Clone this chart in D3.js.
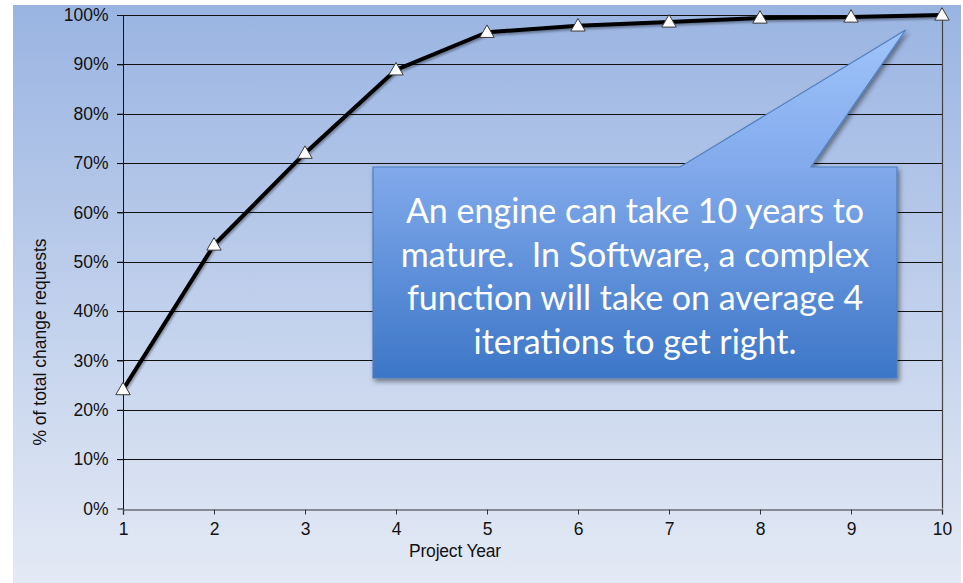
<!DOCTYPE html>
<html>
<head>
<meta charset="utf-8">
<script src="https://cdn.jsdelivr.net/npm/d3@7"></script>
<style>
  html, body { margin: 0; padding: 0; background: #ffffff; }
  svg { display: block; }
</style>
</head>
<body>
<svg id="chart" width="963" height="583"></svg>
<script>
// Cumulative share of change requests by project year
const years = [1, 2, 3, 4, 5, 6, 7, 8, 9, 10];
const cumulativeShare = [0.241, 0.534, 0.72, 0.889, 0.965, 0.978, 0.986, 0.994, 0.996, 1.0];
const yTicks = [0, 0.1, 0.2, 0.3, 0.4, 0.5, 0.6, 0.7, 0.8, 0.9, 1.0];
const xTitle = "Project Year";
const yTitle = "% of total change requests";
const calloutLines = [
  "An engine can take 10 years to",
  "mature.  In Software, a complex",
  "function will take on average 4",
  "iterations to get right."
];

const svg = d3.select("#chart");
const defs = svg.append("defs");

// Background wash
const bg = defs.append("linearGradient").attr("id", "bgGrad")
  .attr("x1", 0).attr("y1", 0).attr("x2", 0).attr("y2", 1);
bg.append("stop").attr("offset", "0%").attr("stop-color", "#9ab4e2");
bg.append("stop").attr("offset", "100%").attr("stop-color", "#e4eaf5");

svg.append("rect")
  .attr("x", 13).attr("y", 5).attr("width", 948).attr("height", 578)
  .attr("fill", "url(#bgGrad)");

const plot = { left: 123, right: 942, top: 15, bottom: 508.5 };

const x = d3.scaleLinear().domain([1, 10]).range([plot.left, plot.right]);
const y = d3.scaleLinear().domain([0, 1]).range([plot.bottom, plot.top]);

const labelFont = "'Liberation Sans', Arial, sans-serif";

// Horizontal gridlines
svg.append("g")
  .selectAll("line")
  .data(yTicks.filter(d => d > 0))
  .join("line")
  .attr("x1", plot.left - 6).attr("x2", plot.right)
  .attr("y1", d => Math.round(y(d)) + 0.5).attr("y2", d => Math.round(y(d)) + 0.5)
  .attr("stroke", "#111").attr("stroke-width", 1);

// Right border of plot
svg.append("line")
  .attr("x1", plot.right + 0.5).attr("x2", plot.right + 0.5)
  .attr("y1", y(1)).attr("y2", y(0))
  .attr("stroke", "#444").attr("stroke-width", 1.2);

// Y axis
const yAxis = d3.axisLeft(y)
  .tickValues(yTicks)
  .tickFormat(d3.format(".0%"))
  .tickSize(6)
  .tickPadding(9);
const gy = svg.append("g")
  .attr("transform", `translate(${plot.left + 0.5},0)`)
  .call(yAxis);
gy.select(".domain").attr("stroke", "#111").attr("d", `M0,${y(1)}V${y(0) + 6}`);
gy.selectAll(".tick line").attr("stroke", "#111");
gy.selectAll(".tick text")
  .attr("fill", "#111")
  .style("font-family", labelFont)
  .style("font-size", "17.5px");

// X axis
const xAxis = d3.axisBottom(x)
  .tickValues(years)
  .tickFormat(d3.format("d"))
  .tickSize(5)
  .tickPadding(8);
const gx = svg.append("g")
  .attr("transform", `translate(0,${Math.round(y(0)) + 0.5})`)
  .call(xAxis);
gx.select(".domain").attr("stroke", "#6b6f78").attr("stroke-width", 1.5);
gx.selectAll(".tick line").attr("stroke", "#333");
gx.selectAll(".tick text")
  .attr("fill", "#111")
  .style("font-family", labelFont)
  .style("font-size", "17.5px");

// Axis titles
svg.append("text")
  .attr("x", 455)
  .attr("y", 557)
  .attr("text-anchor", "middle")
  .attr("fill", "#111")
  .style("font-family", labelFont)
  .style("font-size", "17.5px")
  .style("letter-spacing", "-0.2px")
  .text(xTitle);

svg.append("text")
  .attr("transform", "translate(46,342) rotate(-90)")
  .attr("text-anchor", "middle")
  .attr("fill", "#111")
  .style("font-family", labelFont)
  .style("font-size", "17.5px")
  .text(yTitle);

// Series line with a soft shadow
const shadow = defs.append("filter").attr("id", "lineShadow")
  .attr("x", "-10%").attr("y", "-10%").attr("width", "130%").attr("height", "130%");
shadow.append("feDropShadow")
  .attr("dx", 1).attr("dy", 2).attr("stdDeviation", 1.2)
  .attr("flood-color", "#000").attr("flood-opacity", 0.35);

const points = years.map((yr, i) => [yr, cumulativeShare[i]]);
const line = d3.line().x(d => x(d[0])).y(d => y(d[1]));

svg.append("path")
  .datum(points)
  .attr("d", line)
  .attr("fill", "none")
  .attr("stroke", "#000")
  .attr("stroke-width", 4)
  .attr("stroke-linejoin", "round")
  .attr("filter", "url(#lineShadow)");

// Triangle markers
const tri = d3.symbol().type(d3.symbolTriangle).size(90);
svg.append("g")
  .selectAll("path")
  .data(points)
  .join("path")
  .attr("transform", d => `translate(${x(d[0])},${y(d[1]) + 1})`)
  .attr("d", tri)
  .attr("fill", "#ffffff")
  .attr("stroke", "#3a3a3a")
  .attr("stroke-width", 1);

// Callout box with pointer toward the final years
const box = { x0: 373, y0: 167, x1: 897, y1: 378 };
const tip = [x(9.6), 30];
const baseL = 680, baseR = 811;

const cg = defs.append("linearGradient").attr("id", "calloutGrad")
  .attr("gradientUnits", "userSpaceOnUse")
  .attr("x1", 0).attr("y1", tip[1]).attr("x2", 0).attr("y2", box.y1);
cg.append("stop").attr("offset", "0%").attr("stop-color", "#a0c4fa");
cg.append("stop").attr("offset", "39%").attr("stop-color", "#82aaec");
cg.append("stop").attr("offset", "100%").attr("stop-color", "#3c76c7");

const boxShadow = defs.append("filter").attr("id", "boxShadow")
  .attr("x", "-10%").attr("y", "-10%").attr("width", "125%").attr("height", "125%");
boxShadow.append("feDropShadow")
  .attr("dx", 2).attr("dy", 3).attr("stdDeviation", 2.5)
  .attr("flood-color", "#000").attr("flood-opacity", 0.45);

const calloutPath = d3.path();
calloutPath.moveTo(box.x0, box.y0);
calloutPath.lineTo(baseL, box.y0);
calloutPath.lineTo(tip[0], tip[1]);
calloutPath.lineTo(baseR, box.y0);
calloutPath.lineTo(box.x1, box.y0);
calloutPath.lineTo(box.x1, box.y1);
calloutPath.lineTo(box.x0, box.y1);
calloutPath.closePath();

svg.append("path")
  .attr("d", calloutPath.toString())
  .attr("fill", "url(#calloutGrad)")
  .attr("stroke", "#4f7fbf")
  .attr("stroke-width", 1.2)
  .attr("filter", "url(#boxShadow)");

svg.append("g")
  .selectAll("text")
  .data(calloutLines)
  .join("text")
  .attr("x", (box.x0 + box.x1) / 2)
  .attr("y", (d, i) => 223 + i * 43.5)
  .attr("text-anchor", "middle")
  .attr("fill", "#ffffff")
  .style("font-family", "Lato, 'Open Sans', sans-serif")
  .style("font-size", "34px")
  .style("white-space", "pre")
  .text(d => d);
</script>
</body>
</html>
